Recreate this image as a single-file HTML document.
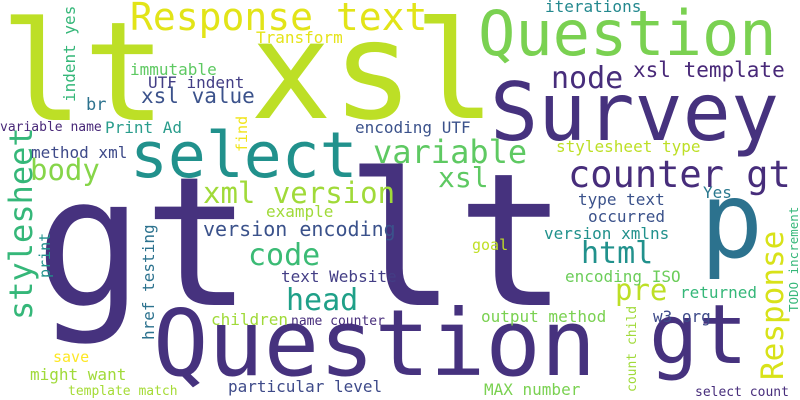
<!DOCTYPE html>
<html><head><meta charset="utf-8"><style>
html,body{margin:0;padding:0;background:#fff;}
svg{display:block;}
text{font-family:"DejaVu Sans Mono","Liberation Mono",monospace;}
</style></head><body>
<svg width="800" height="400" viewBox="0 0 800 400">
<rect width="800" height="400" fill="#fff"/>
<g id="words"></g>
</svg>
<script>
// word, x, y(baseline), size, color, rotated
const words = ["lt","xsl","gt","lt","Question","Survey","Question","select","p","gt","Response text","counter gt","Response","stylesheet","variable","xml version","xsl","body","code","head","html","node","pre","xsl template","xsl value","version encoding","iterations","Transform","indent yes","immutable","UTF indent","br","variable name","Print Ad","find","encoding UTF","stylesheet type","method xml","Yes","type text","occurred","version xmlns","goal","example","text Website","print","href testing","children","name counter","encoding ISO","TODO increment","returned","w3 org","output method","count child","save","might want","template match","particular level","MAX number","select count"];
const xs = [0,250,35,345,478,490,153,130,700,649,130,568,783,32,373,203,438,30,248,286,581,551,615,633,141,203,545,256,75,130,148,86,0,105,247,355,556,31,703,578,588,544,472,266,281,50,154,211,291,565,798,680,653,481,636,53,30,68,228,484,695];
const ys = [120,118,305,305,55,140,375,177,257,363,30,187,380,320,163,203,187,180,265,310,263,88,300,77,103,236,12,43,102,75,88,110,131,133,152,133,152,158,198,205,222,239,250,217,282,278,340,325,325,282,312,298,322,322,392,362,380,395,392,395,396];
const sizes = [138,136,180,185,62,80,92,63,105,82,38,37,31,32,32,29,28,29,30,30,30,30,29,21,21,20,16,16,16,16,16,17,13,16,15,16,16,16,16,16,16,16,15,16,16,15,16,16,13,16,12.5,16,16,16,13,15,16,13,16,16,13];
const colors = ["#bddf26","#bddf26","#46327e","#46327e","#7ad151","#46327e","#46327e","#21918c","#2c728e","#46327e","#e2e418","#472d7b","#d8e219","#35b779","#5ec962","#a0da39","#5ec962","#86d549","#3bbb75","#1fa088","#21918c","#472d7b","#bddf26","#482878","#3b528b","#3b528b","#23888e","#e5e419","#35b779","#5ec962","#433e85","#2c728e","#482878","#2a9d8c","#f1e51d","#3b528b","#bddf26","#3e4a89","#2a788e","#3b528b","#3b528b","#21918c","#c0df25","#a0da39","#433e85","#21918c","#2c728e","#a0da39","#472d7b","#6ccd5a","#35b779","#35b779","#3e4a89","#7ad151","#a0da39","#fde725","#a0da39","#a5db36","#3e4a89","#7ad151","#472d7b"];
const rot = [0,0,0,0,0,0,0,0,0,0,0,0,1,1,0,0,0,0,0,0,0,0,0,0,0,0,0,0,1,0,0,0,0,0,1,0,0,0,0,0,0,0,0,0,0,1,1,0,0,0,1,0,0,0,1,0,0,0,0,0,0];
const g = document.getElementById('words');
const NS = 'http://www.w3.org/2000/svg';
words.forEach((w,i)=>{
  const t = document.createElementNS(NS,'text');
  t.textContent = w;
  t.setAttribute('font-size', sizes[i]);
  t.setAttribute('fill', colors[i]);
  if (rot[i]) {
    t.setAttribute('transform','translate('+xs[i]+','+ys[i]+') rotate(-90)');
  } else {
    t.setAttribute('x', xs[i]);
    t.setAttribute('y', ys[i]);
  }
  
  
  g.appendChild(t);
});
</script>
</body></html>
